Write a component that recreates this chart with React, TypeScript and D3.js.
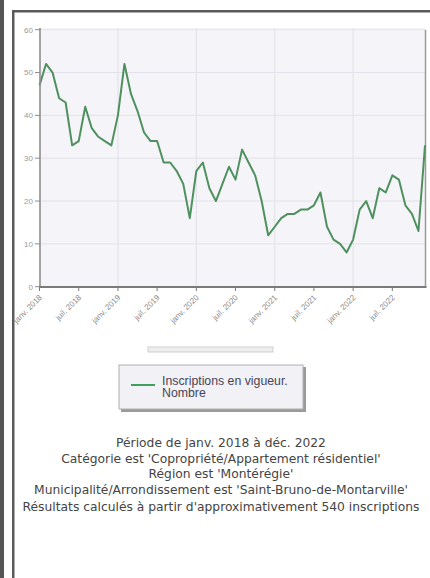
import React from "react";
import * as d3 from "d3";

const months: string[] = [
  "2018-01","2018-02","2018-03","2018-04","2018-05","2018-06","2018-07","2018-08","2018-09","2018-10","2018-11","2018-12",
  "2019-01","2019-02","2019-03","2019-04","2019-05","2019-06","2019-07","2019-08","2019-09","2019-10","2019-11","2019-12",
  "2020-01","2020-02","2020-03","2020-04","2020-05","2020-06","2020-07","2020-08","2020-09","2020-10","2020-11","2020-12",
  "2021-01","2021-02","2021-03","2021-04","2021-05","2021-06","2021-07","2021-08","2021-09","2021-10","2021-11","2021-12",
  "2022-01","2022-02","2022-03","2022-04","2022-05","2022-06","2022-07","2022-08","2022-09","2022-10","2022-11","2022-12",
];

const inscriptions: number[] = [
  47, 52, 50, 44, 43, 33, 34, 42, 37, 35, 34, 33,
  40, 52, 45, 41, 36, 34, 34, 29, 29, 27, 24, 16,
  27, 29, 23, 20, 24, 28, 25, 32, 29, 26, 20, 12,
  14, 16, 17, 17, 18, 18, 19, 22, 14, 11, 10, 8,
  11, 18, 20, 16, 23, 22, 26, 25, 19, 17, 13, 33,
];

const xTickIdx: number[] = [0, 6, 12, 18, 24, 30, 36, 42, 48, 54];
const xTickLabels: string[] = [
  "janv. 2018", "juil. 2018", "janv. 2019", "juil. 2019", "janv. 2020",
  "juil. 2020", "janv. 2021", "juil. 2021", "janv. 2022", "juil. 2022",
];
const yTicks: number[] = [0, 10, 20, 30, 40, 50, 60];

const legendLabel1 = "Inscriptions en vigueur.";
const legendLabel2 = "Nombre";

const footerLines: string[] = [
  "Période de janv. 2018 à déc. 2022",
  "Catégorie est 'Copropriété/Appartement résidentiel'",
  "Région est 'Montérégie'",
  "Municipalité/Arrondissement est 'Saint-Bruno-de-Montarville'",
  "Résultats calculés à partir d'approximativement 540 inscriptions",
];

export default function App() {
  const W = 430, H = 578;
  const left = 40, right = 425.5, top = 28, bottom = 287;
  const x = d3.scaleLinear().domain([0, months.length - 1]).range([39.5, 425]);
  const y = d3.scaleLinear().domain([0, 60]).range([286.7, 29.7]);
  const line = d3.line<number>().x((_, i) => x(i)).y((d) => y(d));
  const path = line(inscriptions) || "";
  const green = "#4f915e";
  const footerY = [443, 459, 474, 490, 507];

  return (
    <svg width={W} height={H} style={{ position: "absolute", left: 0, top: 0, background: "#fff" }}>
      {/* outer frame */}
      <rect x={0} y={0} width={4} height={H} fill="#555" />
      <rect x={12} y={10} width={W - 12} height={2.5} fill="#5a5a5a" />
      <rect x={12} y={10} width={2.5} height={H - 10} fill="#5a5a5a" />

      {/* plot background */}
      <rect x={left} y={top} width={right - left} height={bottom - top} fill="#f4f4f9" />
      {yTicks.filter((t) => t > 0).map((t) => (
        <line key={"hg" + t} x1={left} x2={right} y1={y(t)} y2={y(t)} stroke="#e4e2ea" strokeWidth={1} />
      ))}
      {xTickIdx.filter((i) => i % 12 === 0 && i > 0).map((i) => (
        <line key={"vg" + i} x1={x(i)} x2={x(i)} y1={top} y2={bottom} stroke="#e0e0e6" strokeWidth={1} />
      ))}
      <line x1={right} x2={right} y1={top + 2} y2={bottom} stroke="#9a9a9a" strokeWidth={1.5} />

      {/* series */}
      <path d={path} fill="none" stroke={green} strokeWidth={2} strokeLinejoin="round" />

      {/* y axis */}
      <line x1={left} x2={left} y1={top} y2={bottom + 1} stroke="#8e8e8e" strokeWidth={1.6} />
      {yTicks.map((t) => (
        <g key={"yt" + t}>
          <line x1={left - 5} x2={left} y1={y(t)} y2={y(t)} stroke="#8e8e8e" strokeWidth={1} />
          <text x={left - 7} y={y(t)} dy="0.35em" textAnchor="end" fontFamily="Liberation Sans, Arial, sans-serif" fontSize={8} fill="#9a9a9a">{t}</text>
        </g>
      ))}

      {/* x axis */}
      <line x1={left - 1} x2={right + 1} y1={bottom} y2={bottom} stroke="#7a7a7a" strokeWidth={2} />
      {xTickIdx.map((i, k) => (
        <g key={"xt" + i}>
          <line x1={x(i)} x2={x(i)} y1={bottom} y2={bottom + 4} stroke="#7a7a7a" strokeWidth={1} />
          <text
            transform={`translate(${x(i) + 3},${bottom + 11}) rotate(-45)`}
            textAnchor="end"
            fontFamily="Liberation Sans, Arial, sans-serif"
            fontSize={8}
            fill="#8a8a8a"
          >
            {xTickLabels[k]}
          </text>
        </g>
      ))}

      {/* small slider bar */}
      <rect x={148} y={347} width={125} height={5} fill="#eeeeee" stroke="#cfcfcf" strokeWidth={1} />

      {/* legend */}
      <rect x={121} y={367} width={185} height={45} fill="#9a9a9a" />
      <rect x={119} y={365} width={184} height={44} fill="#f1f1f6" stroke="#b0b0b0" strokeWidth={1} />
      <line x1={131} x2={155} y1={385} y2={385} stroke="#3f9f5f" strokeWidth={2} />
      <text x={162} y={384.5} fontFamily="Liberation Sans, Arial, sans-serif" fontSize={12.3} fill="#4a4458">{legendLabel1}</text>
      <text x={162} y={397} fontFamily="Liberation Sans, Arial, sans-serif" fontSize={12.3} fill="#4a4458">{legendLabel2}</text>

      {/* footer */}
      {footerLines.map((s, i) => (
        <text key={"f" + i} x={221} y={footerY[i]} dy="0.35em" textAnchor="middle" fontFamily="DejaVu Sans, Verdana, sans-serif" fontSize={12.3} fill="#444">{s}</text>
      ))}
    </svg>
  );
}
